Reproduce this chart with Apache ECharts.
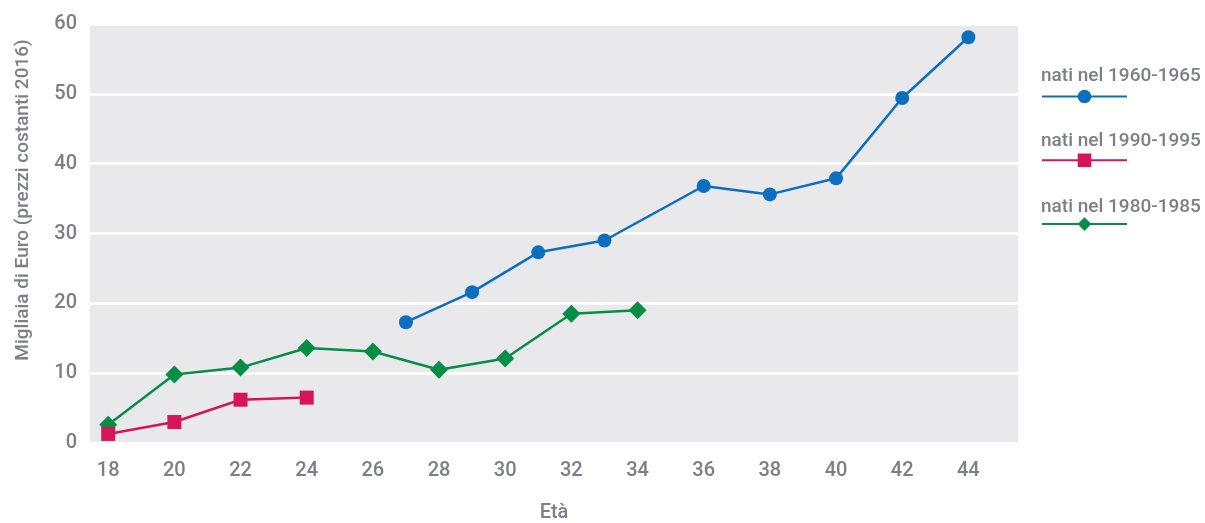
<!DOCTYPE html>
<html>
<head>
<meta charset="utf-8">
<script src="https://cdn.jsdelivr.net/npm/echarts@6/dist/echarts.min.js"></script>
<style>html,body{margin:0;padding:0;background:#fff}#c{width:1205px;height:523px}</style>
</head>
<body>
<div id="c"></div>
<script>
// Data
const xTickLabels = [18, 20, 22, 24, 26, 28, 30, 32, 34, 36, 38, 40, 42, 44];
const yTickLabels = [0, 10, 20, 30, 40, 50, 60];

const names = ['nati nel 1960-1965', 'nati nel 1990-1995', 'nati nel 1980-1985'];

const ages1960 = [27, 29, 31, 33, 36, 38, 40, 42, 44];
const vals1960 = [17.3, 21.6, 27.3, 29.0, 36.8, 35.6, 37.9, 49.4, 58.1];

const ages1990 = [18, 20, 22, 24];
const vals1990 = [1.3, 3.0, 6.2, 6.5];

const ages1980 = [18, 20, 22, 24, 26, 28, 30, 32, 34];
const vals1980 = [2.6, 9.8, 10.8, 13.6, 13.1, 10.5, 12.1, 18.5, 19.0];

const pairs = (xs, ys) => xs.map((x, i) => [x, ys[i]]);

const textColor = '#7d7e87';
const font = 'Roboto, "DejaVu Sans", sans-serif';
const fw = 500;
const colors = { blue: '#0b6fbe', red: '#d5145a', green: '#068d46' };

const chart = echarts.init(document.getElementById('c'), null, { renderer: 'canvas' });
chart.setOption({
  animation: false,
  textStyle: { fontFamily: font },
  grid: {
    left: 90, right: 187, top: 24, bottom: 80,
    containLabel: false, outerBoundsMode: 'none',
    show: true, backgroundColor: '#e9e9ec', borderWidth: 0
  },
  xAxis: {
    type: 'value', min: 17.45, max: 45.5,
    name: 'Età', nameLocation: 'middle', nameGap: 60,
    nameTextStyle: { color: textColor, fontSize: 20, fontFamily: font, fontWeight: fw },
    axisLine: { show: false }, axisTick: { show: false },
    splitLine: { show: false },
    axisLabel: {
      customValues: xTickLabels, color: textColor, fontSize: 20, margin: 18,
      fontFamily: font, fontWeight: fw
    }
  },
  yAxis: {
    type: 'value', min: 0, max: 60, interval: 10,
    axisLine: { show: false }, axisTick: { show: false },
    splitLine: { show: true, lineStyle: { color: '#ffffff', width: 3 } },
    axisLabel: {
      customValues: yTickLabels, color: textColor, fontSize: 20, margin: 13,
      fontFamily: font, fontWeight: fw
    }
  },
  graphic: [{
    type: 'text', x: 23, y: 200, rotation: Math.PI / 2,
    style: {
      text: 'Migliaia di Euro (prezzi costanti 2016)',
      fill: textColor, font: fw + ' 19px ' + font,
      align: 'center', verticalAlign: 'middle'
    }
  }],
  legend: [{
    data: names, orient: 'vertical', left: 1036, top: 83,
    itemWidth: 85, itemHeight: 17, itemGap: 48.5,
    formatter: () => '', textStyle: { fontSize: 1 }
  }, {
    data: names, orient: 'vertical', left: 1031, top: 59,
    icon: 'none', itemWidth: 0, itemHeight: 24, itemGap: 44,
    textStyle: { color: textColor, fontSize: 19, fontFamily: font, fontWeight: fw }
  }],
  series: [{
    name: names[2], type: 'line', data: pairs(ages1980, vals1980),
    symbol: 'diamond', symbolSize: 18,
    lineStyle: { color: colors.green, width: 2.5 },
    itemStyle: { color: colors.green }
  }, {
    name: names[1], type: 'line', data: pairs(ages1990, vals1990),
    symbol: 'rect', symbolSize: 14,
    lineStyle: { color: colors.red, width: 2.5 },
    itemStyle: { color: colors.red }
  }, {
    name: names[0], type: 'line', data: pairs(ages1960, vals1960),
    symbol: 'circle', symbolSize: 14,
    lineStyle: { color: colors.blue, width: 2.5 },
    itemStyle: { color: colors.blue }
  }]
});
</script>
</body>
</html>
